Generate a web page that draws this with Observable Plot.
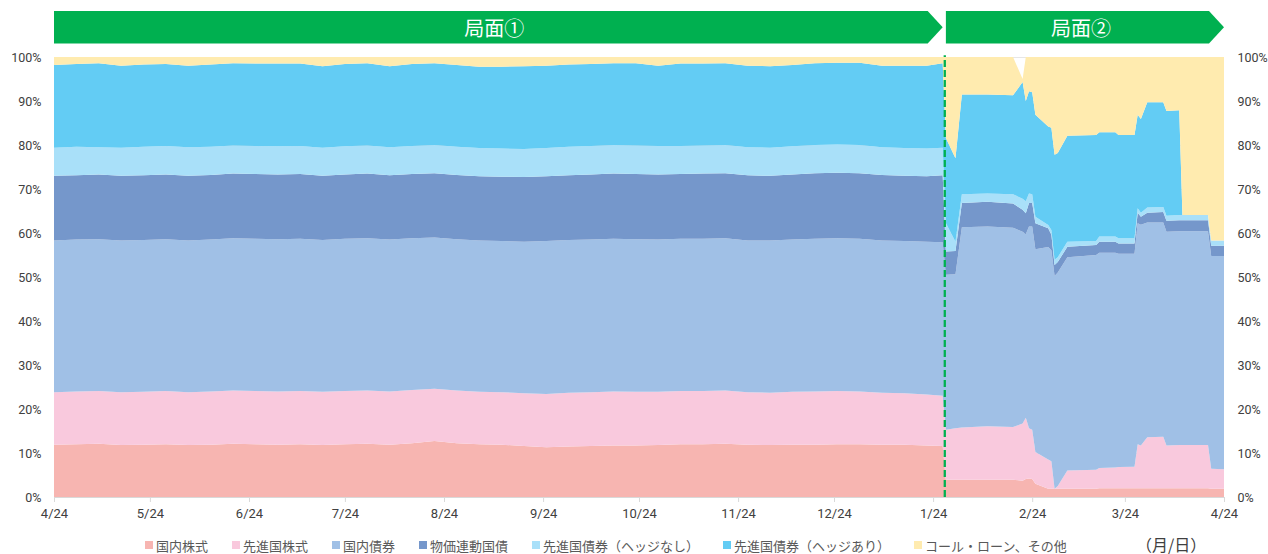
<!DOCTYPE html>
<html><head><meta charset="utf-8">
<script src="https://cdn.jsdelivr.net/npm/d3@7"></script>
<script src="https://cdn.jsdelivr.net/npm/@observablehq/plot@0.6"></script>
<style>
html,body{margin:0;padding:0;background:#fff;}
body{width:1268px;height:554px;overflow:hidden;position:relative;font-family:Roboto,"Noto Sans CJK JP",sans-serif;}
#legend{position:absolute;left:145px;top:536px;height:18px;display:flex;align-items:center;font-family:"Noto Sans CJK JP",sans-serif;font-size:13px;color:#595959;white-space:nowrap;}
.item{display:flex;align-items:center;margin-right:24px;}
.sw{width:8px;height:8px;margin-right:3px;}
#unit{position:absolute;left:1136px;top:532px;font-family:"Noto Sans CJK JP",sans-serif;font-size:16px;color:#404040;}
</style></head><body>
<div id="chart"></div>
<div id="legend"></div>
<div id="unit">（月/日）</div>
<script>
// ---- data ----
const dates = [
 "2019-04-24","2019-05-01","2019-05-08","2019-05-15","2019-05-22","2019-05-29","2019-06-05","2019-06-12","2019-06-19","2019-06-26",
 "2019-07-03","2019-07-10","2019-07-17","2019-07-24","2019-07-31","2019-08-07","2019-08-14","2019-08-21","2019-08-28","2019-09-04",
 "2019-09-11","2019-09-18","2019-09-25","2019-10-02","2019-10-09","2019-10-16","2019-10-23","2019-10-30","2019-11-06","2019-11-13",
 "2019-11-20","2019-11-27","2019-12-04","2019-12-11","2019-12-18","2019-12-25","2020-01-01","2020-01-08","2020-01-15","2020-01-22",
 "2020-01-27",
 "2020-01-28","2020-01-31","2020-02-02","2020-02-10","2020-02-18","2020-02-21","2020-02-22","2020-02-23","2020-02-24","2020-02-25",
 "2020-02-29","2020-03-01","2020-03-02","2020-03-03","2020-03-06","2020-03-15","2020-03-16","2020-03-21","2020-03-22","2020-03-27",
 "2020-03-28","2020-03-29","2020-03-31","2020-04-05","2020-04-06","2020-04-10","2020-04-11","2020-04-19","2020-04-20","2020-04-24"
];
const seriesNames = ["国内株式","先進国株式","国内債券","物価連動国債","先進国債券（ヘッジなし）","先進国債券（ヘッジあり）","コール・ローン、その他"];
const seriesColors = ["#F7B5B1","#F9C9DD","#A0C0E6","#7597CB","#A9E0F9","#63CCF4","#FFEBAF"];

const domesticEquity = [11.9,12.0,12.1,11.8,11.9,12.0,11.8,11.9,12.1,12.0,11.9,12.0,11.8,12.0,12.1,11.9,12.2,12.7,12.2,12.0,11.9,11.6,11.3,11.5,11.6,11.7,11.7,11.8,12.0,12.0,12.1,11.9,11.8,11.9,11.9,12.0,12.0,11.9,11.9,11.7,11.6,
 3.9,3.9,3.9,3.9,3.9,3.7,4.1,4.2,4.1,3.0,1.9,1.9,1.9,1.9,1.9,1.9,2.0,2.0,2.0,2.0,2.0,2.0,2.0,2.0,2.0,2.0,2.0,2.0,1.9,1.9];
const foreignEquity = [11.9,12.0,12.0,12.0,12.0,12.1,12.0,12.1,12.1,12.1,12.1,12.1,12.1,12.1,12.1,12.1,12.1,11.9,12.0,11.9,11.9,12.0,12.1,12.2,12.2,12.3,12.2,12.1,12.1,12.1,12.1,11.9,11.9,12.0,12.1,12.1,12.0,11.8,11.7,11.6,11.4,
 11.4,11.7,11.9,12.2,12.0,13.0,13.9,11.4,11.2,7.2,6.6,6.2,0.0,0.6,4.1,4.3,4.6,4.7,4.8,4.9,10.0,9.7,11.6,11.7,9.7,9.8,9.8,9.8,4.5,4.4];
const domesticBond = [34.5,34.5,34.5,34.5,34.5,34.5,34.5,34.5,34.6,34.6,34.6,34.6,34.5,34.6,34.6,34.5,34.5,34.4,34.4,34.4,34.4,34.4,34.8,34.7,34.7,34.7,34.7,34.6,34.6,34.6,34.6,34.5,34.6,34.6,34.7,34.7,34.7,34.6,34.6,34.7,34.9,
 35.2,35.0,45.5,45.4,45.3,43.6,41.7,45.9,46.2,46.1,48.3,48.0,48.3,48.5,48.5,48.8,48.9,48.8,48.5,48.4,50.2,50.2,48.8,48.7,48.6,48.6,48.6,48.6,48.4,48.5];
const inflationLinked = [14.7,14.6,14.7,14.7,14.7,14.7,14.7,14.7,14.7,14.7,14.7,14.7,14.6,14.6,14.7,14.6,14.6,14.6,14.6,14.6,14.6,14.7,14.7,14.7,14.8,14.8,14.8,14.8,14.7,14.8,14.8,14.8,14.7,14.8,14.9,14.9,14.9,14.9,14.8,14.9,15.2,
 5.3,5.3,5.5,5.6,5.5,5.0,4.8,5.3,5.3,5.9,4.3,3.5,2.5,2.4,2.4,2.3,2.5,2.5,2.3,2.3,2.4,1.8,2.2,2.4,2.5,2.5,2.5,2.5,2.3,2.3];
const foreignBondUnhedged = [6.4,6.5,6.2,6.4,6.5,6.5,6.5,6.4,6.4,6.4,6.4,6.4,6.4,6.4,6.4,6.4,6.4,6.4,6.4,6.4,6.4,6.4,6.4,6.5,6.5,6.5,6.5,6.5,6.4,6.4,6.4,6.4,6.4,6.4,6.4,6.4,6.4,6.3,6.3,6.3,6.3,
 6.5,2.1,2.0,1.9,2.1,2.5,2.7,2.2,2.0,1.5,0.7,1.1,1.2,1.1,1.1,0.9,1.2,1.2,1.2,1.2,1.0,0.9,1.2,1.1,1.1,1.2,1.2,1.2,1.2,1.2];
const foreignBondHedged = [18.8,18.8,19.1,18.6,18.7,18.6,18.5,18.7,18.7,18.7,18.8,18.7,18.5,18.7,18.7,18.4,18.6,18.6,18.6,18.5,18.6,18.8,18.7,18.7,18.6,18.6,18.7,18.2,18.7,18.6,18.6,18.5,18.5,18.5,18.6,18.6,18.7,18.5,18.7,18.8,19.2,
 19.3,19.0,22.7,22.5,22.5,26.5,22.8,23.2,23.2,23.2,22.4,23.2,23.9,23.7,24.1,24.1,23.7,23.7,23.5,23.5,21.3,21.3,23.9,23.8,23.8,23.8,0.0,0.0,0.0,0.0];
const callLoanOther = [1.8,1.6,1.4,2.0,1.7,1.6,2.0,1.7,1.4,1.5,1.5,1.5,2.1,1.6,1.4,2.1,1.6,1.4,1.8,2.2,2.2,2.1,2.0,1.7,1.6,1.4,1.4,2.0,1.5,1.5,1.4,2.0,2.1,1.8,1.4,1.3,1.3,2.0,2.0,2.0,1.4,
 18.4,23.0,8.5,8.5,8.7,0.7,10.0,7.8,8.0,13.1,15.8,16.1,22.2,21.8,17.9,17.7,17.1,17.1,17.7,17.7,13.1,14.1,10.3,10.3,12.3,12.1,35.9,35.9,41.7,41.7];

const xTickLabels = ["2019-04-24","2019-05-24","2019-06-24","2019-07-24","2019-08-24","2019-09-24","2019-10-24","2019-11-24","2019-12-24","2020-01-24","2020-02-24","2020-03-24","2020-04-24"];
const yTicks = [0,10,20,30,40,50,60,70,80,90,100];
const phases = [
  {label:"局面①", start:"2019-04-24", end:"2020-01-27"},
  {label:"局面②", start:"2020-01-28", end:"2020-04-24"}
];

// ---- build ----
const seriesValues = [domesticEquity, foreignEquity, domesticBond, inflationLinked, foreignBondUnhedged, foreignBondHedged, callLoanOther];
const table = [];
seriesNames.forEach((name, i) => {
  seriesValues[i].forEach((v, j) => table.push({date: new Date(dates[j]), series: name, value: v}));
});
const fmtDate = d3.utcFormat("%-m/%-d");
const fontStack = 'Roboto,"Noto Sans CJK JP",sans-serif';

const plot = Plot.plot({
  width: 1268, height: 534,
  marginLeft: 54, marginRight: 44, marginTop: 57, marginBottom: 37,
  style: {fontFamily: fontStack, fontSize: "12.5px", color: "#404040", background: "#fff"},
  x: {type: "utc", domain: [new Date(xTickLabels[0]), new Date(xTickLabels[xTickLabels.length - 1])]},
  y: {domain: [0, 100]},
  color: {domain: seriesNames, range: seriesColors},
  marks: [
    Plot.ruleY(yTicks.slice(1), {stroke: "#E6E6E6", strokeWidth: 1}),
    Plot.areaY(table, {x: "date", y: "value", z: "series", fill: "series", curve: "linear"}),
    Plot.ruleY([0], {stroke: "#D9D9D9"}),
    Plot.ruleX([new Date(phases[1].start)], {y1: 0, y2: 100.4, dx: -1.6, stroke: "#00B050", strokeWidth: 2.3, strokeDasharray: "7,3"}),
    Plot.axisX({ticks: xTickLabels.map(d => new Date(d)), tickFormat: fmtDate, tickSize: 5, tickPadding: 6, stroke: "#D9D9D9", fill: "#404040", fontSize: 13, label: null}),
    Plot.axisY({anchor: "left", ticks: yTicks, tickFormat: d => d + "%", tickSize: 0, tickPadding: 13, fill: "#404040", label: null}),
    Plot.axisY({anchor: "right", ticks: yTicks, tickFormat: d => d + "%", tickSize: 0, tickPadding: 13, fill: "#404040", label: null})
  ]
});
document.getElementById("chart").appendChild(plot);

// phase banners drawn from the x scale
const xs = plot.scale("x");
const svg = d3.select(plot);
const bTop = 11, bBot = 43.5, tip = 15;
phases.forEach(p => {
  const x0 = xs.apply(new Date(p.start)), x1 = xs.apply(new Date(p.end));
  const mid = (bTop + bBot) / 2;
  svg.append("path")
    .attr("d", `M${x0},${bTop}L${x1 - tip},${bTop}L${x1},${mid}L${x1 - tip},${bBot}L${x0},${bBot}Z`)
    .attr("fill", "#00B050");
  svg.append("text")
    .attr("x", (x0 + x1 - 8) / 2).attr("y", mid)
    .attr("text-anchor", "middle").attr("dominant-baseline", "central")
    .attr("fill", "#fff").attr("font-size", 20)
    .attr("font-family", '"Noto Sans CJK JP",sans-serif')
    .text(p.label);
});

// legend
const legend = d3.select("#legend");
seriesNames.forEach((name, i) => {
  const it = legend.append("div").attr("class", "item");
  it.append("div").attr("class", "sw").style("background", seriesColors[i]);
  it.append("span").text(name);
});
</script>
</body></html>
